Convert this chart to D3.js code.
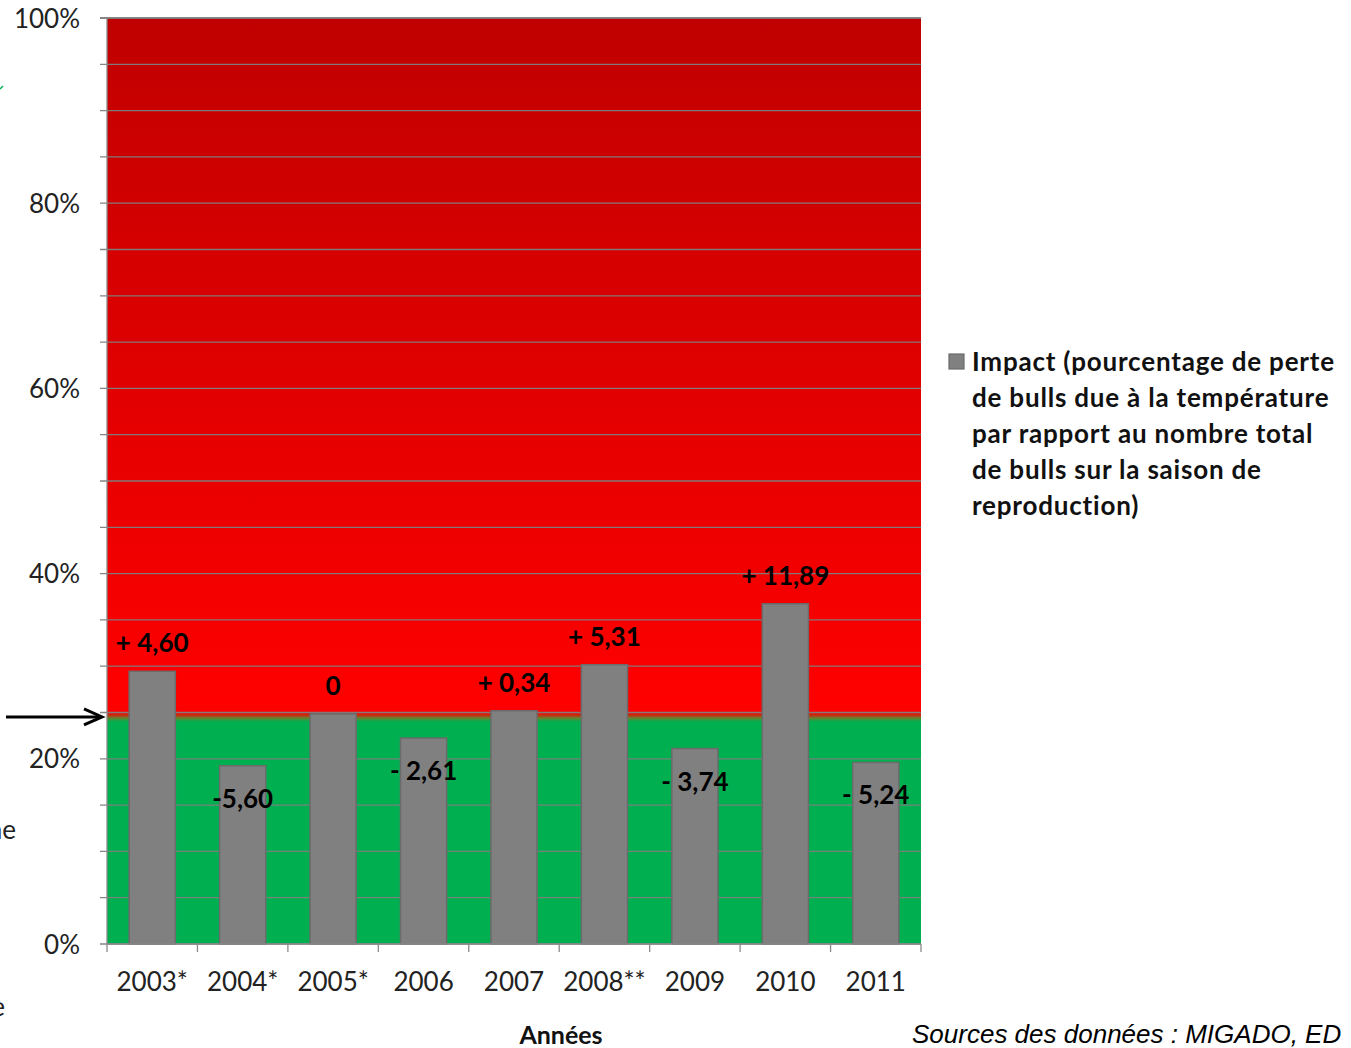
<!DOCTYPE html>
<html><head><meta charset="utf-8">
<script src="https://cdn.jsdelivr.net/npm/d3@7"></script>
<style>body{margin:0;background:#fff;overflow:hidden}svg{display:block}</style>
</head><body>
<svg id="c" width="1351" height="1048"></svg>
<script>
const categories = ["2003*","2004*","2005*","2006","2007","2008**","2009","2010","2011"];
const impactValues = [4.60,-5.60,0,-2.61,0.34,5.31,-3.74,11.89,-5.24];
const impactLabels = ["+ 4,60","-5,60","0","- 2,61","+ 0,34","+ 5,31","- 3,74","+ 11,89","- 5,24"];
const baselinePct = 24.85;      // reference level (arrow)
const zoneBoundaryPct = 24.6;   // red / green boundary
const yTickValues = [0,20,40,60,80,100];
const yTickLabels = ["0%","20%","40%","60%","80%","100%"];
const gridValues = d3.range(0,101,5);
const legendLines = ["Impact (pourcentage de perte","de bulls due à la température","par rapport au nombre total","de bulls sur la saison de","reproduction)"];
const xTitle = "Années";
const sourceText = "Sources des données : MIGADO, ED";

const svg = d3.select("#c");
const L=107,R=921,T=18,B=944;
const FONT = "Lato, 'Open Sans', sans-serif";
const y = d3.scaleLinear().domain([0,100]).range([B,T]);
const x = d3.scaleBand().domain(categories).range([L,R]).paddingInner(0.49).paddingOuter(0.245);

// background gradient
const defs = svg.append("defs");
const g = defs.append("linearGradient").attr("id","bg").attr("gradientUnits","userSpaceOnUse")
  .attr("x1",0).attr("x2",0).attr("y1",y(100)).attr("y2",y(0));
const b = 1 - zoneBoundaryPct/100;
[[0,"#C00000"],[b-0.004,"#FF0000"],[b-0.001,"#C03010"],[b+0.002,"#6A8030"],[b+0.006,"#00B050"],[1,"#00B050"]]
  .forEach(([o,c])=>g.append("stop").attr("offset",o).attr("stop-color",c));
svg.append("rect").attr("x",L).attr("y",y(100)).attr("width",R-L).attr("height",y(0)-y(100)).attr("fill","url(#bg)");

// gridlines
svg.append("g").selectAll("line").data(gridValues).join("line")
  .attr("x1",L-7).attr("x2",R).attr("y1",d=>y(d)).attr("y2",d=>y(d))
  .attr("stroke","#7f7f7f").attr("stroke-width",d=>d===100?2:1.3).attr("opacity",0.95);

// y axis line
svg.append("line").attr("x1",L).attr("x2",L).attr("y1",T).attr("y2",B).attr("stroke","#8a8a8a").attr("stroke-width",1.3);

// y tick labels
const yAxis = d3.axisLeft(y).tickValues(yTickValues).tickFormat((d,i)=>yTickLabels[i]).tickSize(0).tickPadding(27);
const ya = svg.append("g").attr("transform",`translate(${L},0)`).call(yAxis);
ya.select(".domain").remove();
ya.selectAll("text").attr("font-family",FONT).attr("font-size",26).attr("fill","#222").attr("dy","0.35em");

// bars
svg.append("g").selectAll("rect").data(categories).join("rect")
  .attr("x",d=>x(d)).attr("width",x.bandwidth())
  .attr("y",(d,i)=>y(baselinePct+impactValues[i]))
  .attr("height",(d,i)=>y(0)-y(baselinePct+impactValues[i]))
  .attr("fill","#808080").attr("stroke","#6b6b6b").attr("stroke-width",1.5);

// x axis
svg.append("line").attr("x1",L).attr("x2",R).attr("y1",B).attr("y2",B).attr("stroke","#8a8a8a").attr("stroke-width",1.3);
const step = x.step();
svg.append("g").selectAll("line").data(d3.range(categories.length+1)).join("line")
  .attr("x1",i=>L+i*step).attr("x2",i=>L+i*step).attr("y1",B).attr("y2",B+8)
  .attr("stroke","#8a8a8a").attr("stroke-width",1.3);
svg.append("g").selectAll("text").data(categories).join("text")
  .attr("x",d=>x(d)+x.bandwidth()/2).attr("y",991)
  .attr("text-anchor","middle").attr("font-family",FONT).attr("font-size",26).attr("fill","#222")
  .text(d=>d);

// data labels
svg.append("g").selectAll("text").data(categories).join("text")
  .attr("x",d=>x(d)+x.bandwidth()/2)
  .attr("y",(d,i)=>{const v=impactValues[i];const top=y(baselinePct+v);return v>=0?top-19:top+42;})
  .attr("text-anchor","middle").attr("font-family",FONT).attr("font-weight","bold")
  .attr("font-size",26).attr("fill","#000")
  .text((d,i)=>impactLabels[i]);

// arrow
const ay = y(baselinePct)+3;
svg.append("line").attr("x1",6).attr("x2",101).attr("y1",ay).attr("y2",ay).attr("stroke","#000").attr("stroke-width",3);
svg.append("path").attr("d",`M84,${ay-8} L102,${ay} L84,${ay+8}`)
  .attr("fill","none").attr("stroke","#000").attr("stroke-width",3);

// axis title & source
svg.append("text").attr("x",561).attr("y",1044).attr("text-anchor","middle")
  .attr("font-family",FONT).attr("font-weight","bold").attr("font-size",25).attr("fill","#111").text(xTitle);
svg.append("text").attr("x",912).attr("y",1043)
  .attr("font-family","'Liberation Sans', Arial, sans-serif").attr("font-style","italic").attr("font-size",26).attr("fill","#000").text(sourceText);

// legend
svg.append("rect").attr("x",949).attr("y",354).attr("width",15).attr("height",15).attr("fill","#808080").attr("stroke","#6b6b6b").attr("stroke-width",1.2);
svg.append("g").selectAll("text").data(legendLines).join("text")
  .attr("x",972).attr("y",(d,i)=>371+i*36)
  .attr("font-family",FONT).attr("font-weight","bold").attr("font-size",26).attr("letter-spacing",0.8).attr("fill","#111")
  .text(d=>d);

// clipped fragments at the left edge (as in the source image)
svg.append("text").attr("x",16).attr("y",839).attr("text-anchor","end").attr("font-family",FONT).attr("font-size",26).attr("fill","#222").text("ne");
svg.append("text").attr("x",5).attr("y",1016).attr("text-anchor","end").attr("font-family",FONT).attr("font-size",26).attr("fill","#222").text("e");
svg.append("line").attr("x1",0).attr("x2",3).attr("y1",89).attr("y2",86).attr("stroke","#00B050").attr("stroke-width",1.5);
</script>
</body></html>
